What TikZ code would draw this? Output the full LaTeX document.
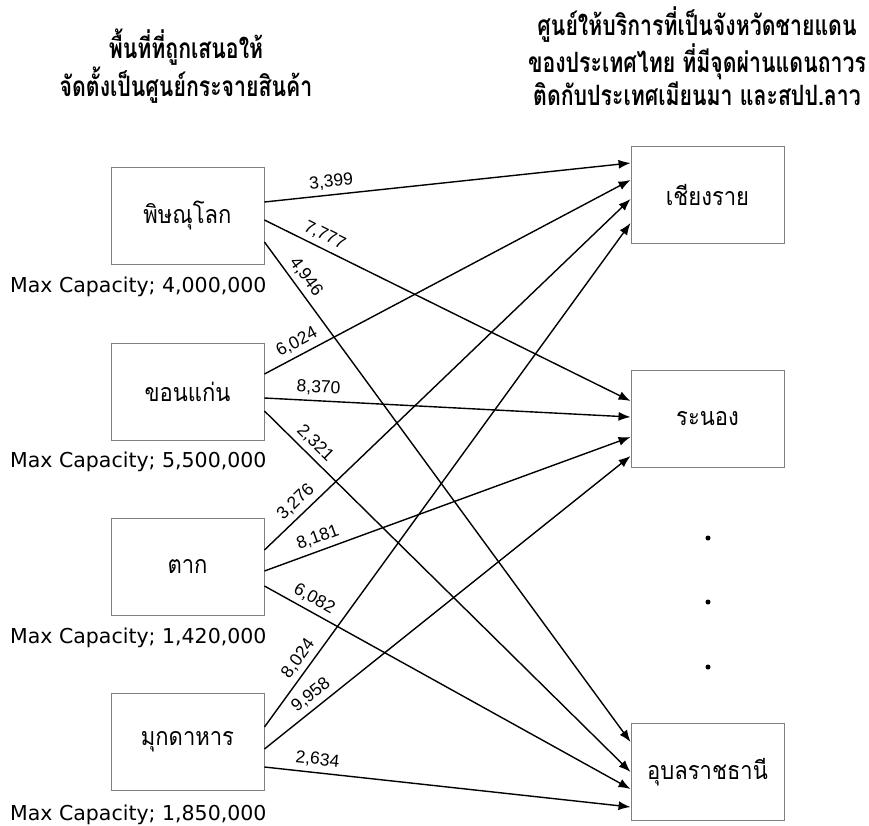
\documentclass[tikz,border=0pt]{standalone}
\usepackage{fontspec}
\newfontfamily\thaifont[Script=Thai,FakeStretch=0.88]{Loma}
\newfontfamily\thaihead[Script=Thai,FakeStretch=0.76]{Loma}
\newfontfamily\numfont{Liberation Sans}
\newfontfamily\capfont{DejaVu Sans}
\usetikzlibrary{arrows.meta, positioning}

\begin{document}
\begin{tikzpicture}[
x=1pt, y=-1pt,
box/.style={draw={rgb,255:red,128;green,128;blue,128}, line width=0.9pt, minimum width=153pt, minimum height=97pt, inner sep=0pt, font=\thaifont\fontsize{25}{28}\selectfont},
head/.style={align=center, font=\thaihead\bfseries\fontsize{28}{33}\selectfont},
capnote/.style={anchor=base west, inner sep=0pt, font=\capfont\fontsize{20.5}{24}\selectfont},
arrow/.style={-{Latex[length=12pt, width=9pt]}, line width=1.4pt},
lbl/.style={sloped, above=3pt, inner sep=2pt, font=\numfont\fontsize{17.5}{19}\selectfont},
dot/.style={circle, fill, inner sep=0pt, minimum size=5pt}
]
\useasboundingbox (0,0) rectangle (869,825);

% titles
\node[head, font=\thaihead\bfseries\fontsize{28}{38}\selectfont] (titleL) at (186,66) {พื้นที่ที่ถูกเสนอให้\\จัดตั้งเป็นศูนย์กระจายสินค้า};
\node[head] (titleR) at (697,56) {ศูนย์ให้บริการที่เป็นจังหวัดชายแดน\\ของประเทศไทย ที่มีจุดผ่านแดนถาวร\\ติดกับประเทศเมียนมา และสปป.ลาว};

% distribution centres
\node[box] (dc1) at (187.5,215.5) {พิษณุโลก};
\node[box] (dc2) at (187.5,391.5) {ขอนแก่น};
\node[box] (dc3) at (187.5,566.5) {ตาก};
\node[box] (dc4) at (187.5,742) {มุกดาหาร};

\node[capnote] (cap1) at (10,292) {Max Capacity; 4,000,000};
\node[capnote] (cap2) at (10,467) {Max Capacity; 5,500,000};
\node[capnote] (cap3) at (10,643) {Max Capacity; 1,420,000};
\node[capnote] (cap4) at (10,820) {Max Capacity; 1,850,000};

% border provinces
\node[box] (bp1) at (707.5,194.5) {เชียงราย};
\node[box] (bp2) at (707.5,418.5) {ระนอง};
\node[box] (bp3) at (707.5,772) {อุบลราชธานี};

\node[dot] (dot1) at (708,538) {};
\node[dot] (dot2) at (708,602) {};
\node[dot] (dot3) at (708,667) {};

% flows
\draw[arrow] ([yshift=13.5pt]dc1.east) -- node[lbl, pos=0.186] {3,399} ([yshift=31.5pt]bp1.west);
\draw[arrow] ([yshift=-4.5pt]dc1.east) -- node[lbl, pos=0.149] {7,777} ([yshift=17.5pt]bp2.west);
\draw[arrow] ([yshift=-26.5pt]dc1.east) -- node[lbl, pos=0.085] {4,946} ([yshift=30pt]bp3.west);

\draw[arrow] ([yshift=17.5pt]dc2.east) -- node[lbl, pos=0.105] {6,024} ([yshift=14.5pt]bp1.west);
\draw[arrow] ([yshift=-6.5pt]dc2.east) -- node[lbl, pos=0.146] {8,370} ([yshift=1.5pt]bp2.west);
\draw[arrow] ([yshift=-19.5pt]dc2.east) -- node[lbl, pos=0.114] {2,321} ([yshift=0pt]bp3.west);

\draw[arrow] ([yshift=16.5pt]dc3.east) -- node[lbl, pos=0.110] {3,276} ([yshift=-4.5pt]bp1.west);
\draw[arrow] ([yshift=-4.5pt]dc3.east) -- node[lbl, pos=0.158] {8,181} ([yshift=-18.5pt]bp2.west);
\draw[arrow] ([yshift=-19.5pt]dc3.east) -- node[lbl, pos=0.119] {6,082} ([yshift=-17pt]bp3.west);

\draw[arrow] ([yshift=15pt]dc4.east) -- node[lbl, pos=0.121] {8,024} ([yshift=-28.5pt]bp1.west);
\draw[arrow] ([yshift=-7pt]dc4.east) -- node[lbl, pos=0.149] {9,958} ([yshift=-37.5pt]bp2.west);
\draw[arrow] ([yshift=-25pt]dc4.east) -- node[lbl, pos=0.141] {2,634} ([yshift=-35pt]bp3.west);

\end{tikzpicture}
\end{document}
